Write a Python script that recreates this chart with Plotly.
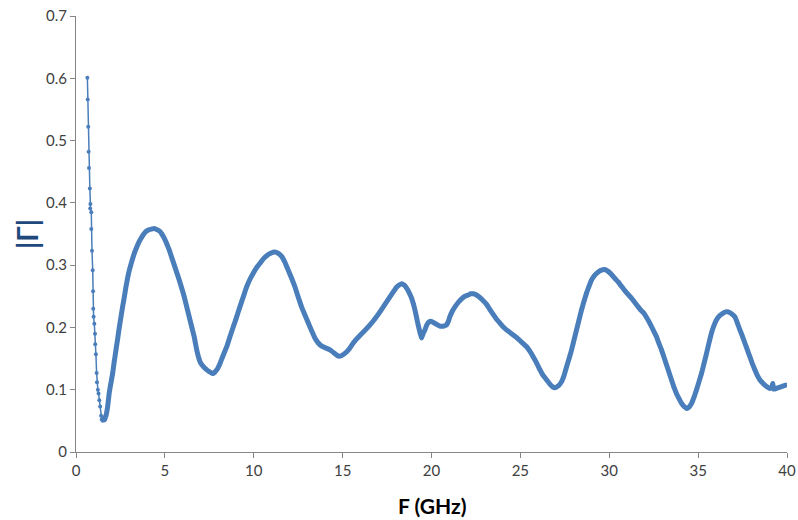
import plotly.graph_objects as go

# Initial sparse points (low frequency)
f_start = [0.64, 0.66, 0.69, 0.71, 0.73, 0.78, 0.81, 0.80, 0.86, 0.86, 0.90, 0.94, 0.96, 0.97,
           0.99, 1.03, 1.07, 1.08, 1.12, 1.16, 1.18, 1.23, 1.27, 1.31, 1.36, 1.41, 1.45, 1.50,
           1.55, 1.60]
g_start = [0.601, 0.566, 0.522, 0.482, 0.456, 0.423, 0.398, 0.391, 0.385, 0.358, 0.323, 0.292,
           0.258, 0.230, 0.217, 0.206, 0.190, 0.173, 0.157, 0.127, 0.112, 0.100, 0.094, 0.083,
           0.073, 0.058, 0.052, 0.050, 0.055, 0.051]

# Dense measured part
f_main = [1.60, 1.70, 1.78, 1.87, 1.96, 2.06, 2.15, 2.25, 2.35, 2.44, 2.53, 2.62, 2.72, 2.81,
          2.90, 3.00, 3.14, 3.28, 3.42, 3.56, 3.70, 3.84, 3.98, 4.12, 4.26, 4.41, 4.55, 4.69,
          4.83, 4.97, 5.11, 5.25, 5.39, 5.53, 5.67, 5.81, 5.95, 6.09, 6.23, 6.37, 6.51, 6.65,
          6.75, 6.84, 6.94, 7.03, 7.17, 7.31, 7.50, 7.69, 7.80, 7.97, 8.10, 8.25, 8.48, 8.66,
          8.85, 9.04, 9.22, 9.41, 9.60, 9.78, 9.97, 10.16, 10.35, 10.54, 10.73, 10.95, 11.19,
          11.38, 11.57, 11.75, 11.94, 12.13, 12.32, 12.50, 12.69, 12.88, 13.07, 13.25, 13.44,
          13.63, 13.82, 14.05, 14.29, 14.52, 14.75, 14.95, 15.23, 15.41, 15.60, 15.80, 15.97,
          16.25, 16.54, 16.82, 17.10, 17.38, 17.66, 17.85, 18.04, 18.18, 18.32, 18.46, 18.60,
          18.74, 18.88, 18.98, 19.07, 19.16, 19.25, 19.35, 19.44, 19.53, 19.63, 19.72, 19.82,
          19.95, 20.10, 20.28, 20.47, 20.66, 20.85, 20.95, 21.03, 21.17, 21.32, 21.50, 21.69,
          21.88, 22.07, 22.21, 22.35, 22.53, 22.72, 22.91, 23.10, 23.28, 23.47, 23.66, 23.85,
          24.03, 24.22, 24.41, 24.60, 24.78, 24.97, 25.16, 25.35, 25.53, 25.72, 25.91, 26.10,
          26.28, 26.47, 26.66, 26.80, 26.94, 27.13, 27.32, 27.46, 27.60, 27.74, 27.88, 28.02,
          28.16, 28.30, 28.44, 28.58, 28.72, 28.86, 29.00, 29.19, 29.38, 29.56, 29.75, 29.94,
          30.13, 30.31, 30.50, 30.69, 30.88, 31.06, 31.25, 31.44, 31.63, 31.80, 31.91, 32.10,
          32.28, 32.47, 32.66, 32.80, 32.94, 33.08, 33.22, 33.36, 33.50, 33.64, 33.78, 33.92,
          34.07, 34.21, 34.35, 34.49, 34.63, 34.77, 34.91, 35.05, 35.19, 35.33, 35.47, 35.61,
          35.75, 35.89, 36.03, 36.22, 36.41, 36.55, 36.69, 36.88, 37.07, 37.21, 37.35, 37.49,
          37.63, 37.77, 37.91, 38.05, 38.19, 38.33, 38.47, 38.66, 38.85, 39.03, 39.15, 39.20,
          39.25, 39.40, 39.60, 39.80, 39.97]
g_main = [0.051, 0.060, 0.073, 0.095, 0.110, 0.126, 0.145, 0.164, 0.183, 0.201, 0.217, 0.233,
          0.249, 0.265, 0.279, 0.292, 0.306, 0.319, 0.329, 0.338, 0.345, 0.351, 0.355, 0.357,
          0.358, 0.359, 0.357, 0.355, 0.350, 0.343, 0.334, 0.324, 0.312, 0.300, 0.288, 0.276,
          0.263, 0.249, 0.233, 0.217, 0.201, 0.185, 0.170, 0.158, 0.148, 0.142, 0.137, 0.133,
          0.129, 0.126, 0.128, 0.134, 0.142, 0.153, 0.169, 0.185, 0.201, 0.217, 0.233, 0.249,
          0.265, 0.277, 0.287, 0.296, 0.303, 0.310, 0.315, 0.319, 0.321, 0.319, 0.314, 0.305,
          0.292, 0.279, 0.265, 0.249, 0.233, 0.220, 0.207, 0.195, 0.183, 0.175, 0.170, 0.167,
          0.164, 0.159, 0.154, 0.155, 0.161, 0.167, 0.175, 0.182, 0.187, 0.195, 0.204, 0.214,
          0.225, 0.237, 0.249, 0.257, 0.265, 0.268, 0.270, 0.268, 0.263, 0.256, 0.247, 0.238,
          0.228, 0.216, 0.204, 0.192, 0.183, 0.190, 0.196, 0.203, 0.208, 0.210, 0.208, 0.205,
          0.202, 0.202, 0.204, 0.210, 0.217, 0.226, 0.233, 0.240, 0.246, 0.250, 0.252, 0.254,
          0.254, 0.252, 0.248, 0.243, 0.237, 0.229, 0.221, 0.213, 0.207, 0.201, 0.196, 0.192,
          0.188, 0.184, 0.179, 0.174, 0.169, 0.162, 0.153, 0.143, 0.132, 0.123, 0.116, 0.109,
          0.105, 0.103, 0.106, 0.113, 0.123, 0.137, 0.150, 0.164, 0.180, 0.196, 0.212, 0.228,
          0.242, 0.255, 0.266, 0.276, 0.284, 0.289, 0.292, 0.293, 0.290, 0.285, 0.279, 0.273,
          0.266, 0.259, 0.253, 0.247, 0.240, 0.233, 0.227, 0.224, 0.216, 0.207, 0.196, 0.185,
          0.174, 0.164, 0.152, 0.140, 0.128, 0.116, 0.104, 0.094, 0.086, 0.078, 0.073, 0.070,
          0.072, 0.078, 0.088, 0.100, 0.113, 0.126, 0.142, 0.158, 0.175, 0.191, 0.203, 0.212,
          0.219, 0.223, 0.225, 0.225, 0.222, 0.217, 0.207, 0.196, 0.186, 0.175, 0.164, 0.153,
          0.142, 0.132, 0.123, 0.116, 0.110, 0.105, 0.102, 0.104, 0.110, 0.101, 0.102, 0.104,
          0.106, 0.108]

x_ticks = [0, 5, 10, 15, 20, 25, 30, 35, 40]
y_ticks = [0, 0.1, 0.2, 0.3, 0.4, 0.5, 0.6, 0.7]
x_title = "F (GHz)"
y_title = "|Γ|"

color = "#4a7ebb"
fig = go.Figure()
fig.add_trace(go.Scatter(x=f_start, y=g_start, mode="lines+markers",
                         line=dict(color=color, width=1.5),
                         marker=dict(color=color, size=4), showlegend=False))
fig.add_trace(go.Scatter(x=f_main, y=g_main, mode="lines+markers",
                         line=dict(color=color, width=5, shape="spline", smoothing=0.3),
                         marker=dict(color=color, size=4), showlegend=False))

axis_common = dict(showgrid=False, zeroline=False, showline=True, linecolor="#868686",
                   linewidth=1, ticks="outside", ticklen=5, tickcolor="#868686",
                   automargin=False,
                   tickfont=dict(family="Lato", size=15, color="#404040"))
fig.update_xaxes(range=[0, 40], tickvals=x_ticks, ticktext=[str(v) for v in x_ticks],
                 **axis_common)
fig.update_yaxes(range=[0, 0.7], tickvals=y_ticks, ticktext=[f"{v:g}" for v in y_ticks],
                 **axis_common)

fig.update_layout(
    width=798, height=520,
    margin=dict(l=76, r=11, t=16, b=68, autoexpand=False),
    plot_bgcolor="white", paper_bgcolor="white",
    annotations=[
        dict(text=f"<b>{x_title}</b>", x=0.5, y=-0.1216, xref="paper", yref="paper",
             xanchor="center", yanchor="middle", showarrow=False,
             font=dict(family="Lato", size=21, color="#000000")),
        dict(text=f"<b>{y_title}</b>", x=-0.0689, y=0.5, xref="paper", yref="paper",
             xanchor="center", yanchor="middle", showarrow=False, textangle=-90,
             font=dict(family="Lato", size=28, color="#1f497d")),
    ],
)
fig.write_html("out.html", config={"displayModeBar": False},
               post_script="document.body.style.margin='0';document.body.style.overflow='hidden';")
